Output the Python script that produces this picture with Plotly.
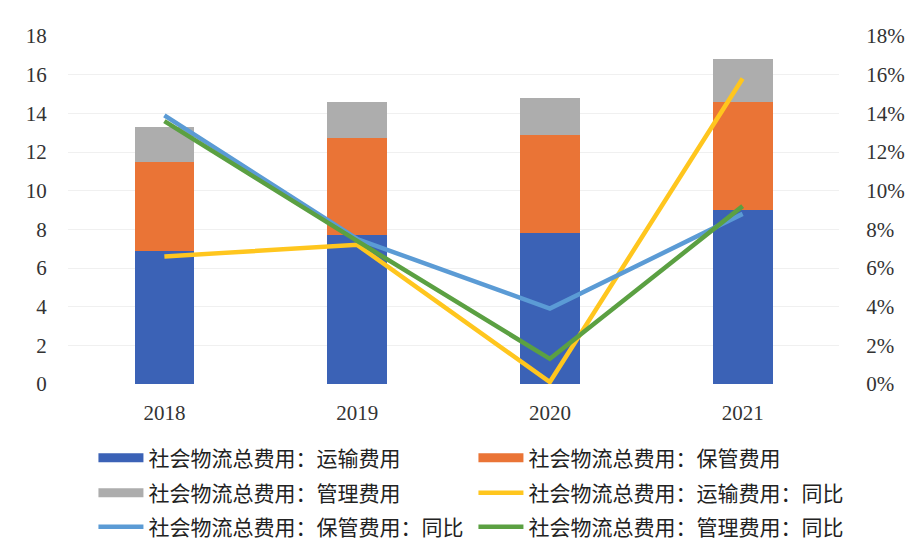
import plotly.graph_objects as go

years = ["2018", "2019", "2020", "2021"]
transport = [6.9, 7.7, 7.8, 9.0]
storage = [4.6, 5.0, 5.1, 5.6]
management = [1.8, 1.9, 1.9, 2.2]
transport_yoy = [0.066, 0.072, 0.001, 0.158]
storage_yoy = [0.139, 0.075, 0.039, 0.088]
management_yoy = [0.136, 0.074, 0.013, 0.092]

names_bar = ["社会物流总费用：运输费用", "社会物流总费用：保管费用", "社会物流总费用：管理费用"]
names_line = ["社会物流总费用：运输费用：同比", "社会物流总费用：保管费用：同比", "社会物流总费用：管理费用：同比"]
bar_colors = ["#3B62B6", "#EA7436", "#ADADAD"]
line_colors = ["#FFC61E", "#5B9BD5", "#5BA042"]

# legend placement: row 1, 2, 3 (two entries each)
legend_of_bar = ["legend", "legend", "legend2"]
legend_of_line = ["legend2", "legend3", "legend3"]

fig = go.Figure()
for vals, nm, c in zip([transport, storage, management], names_bar, bar_colors):
    fig.add_trace(go.Bar(x=years, y=vals, name=nm, marker=dict(color=c, line=dict(width=0)),
                         width=0.31, showlegend=False))
# legend entries for bars (wide rectangles)
for nm, c, lg in zip(names_bar, bar_colors, legend_of_bar):
    fig.add_trace(go.Scatter(x=[None], y=[None], mode="lines", name=nm, legend=lg,
                             line=dict(color=c, width=9), showlegend=True))
for vals, nm, c, lg in zip([transport_yoy, storage_yoy, management_yoy], names_line, line_colors, legend_of_line):
    fig.add_trace(go.Scatter(x=years, y=vals, name=nm, mode="lines", yaxis="y2", legend=lg,
                             line=dict(color=c, width=4.5)))

tick_font = dict(family="Liberation Serif", size=21, color="#333333")
leg_common = dict(orientation="h", x=0.033, xanchor="left", yanchor="middle",
                  entrywidth=320, entrywidthmode="pixels", traceorder="normal",
                  font=dict(family="Noto Sans CJK SC", size=21, color="#222222"),
                  itemwidth=45, bgcolor="rgba(0,0,0,0)")
fig.update_layout(
    width=917, height=559,
    margin=dict(l=68, r=68, t=36, b=175),
    paper_bgcolor="white", plot_bgcolor="white",
    barmode="stack",
    xaxis=dict(type="category", tickfont=tick_font, showgrid=False, zeroline=False,
               ticks="outside", ticklen=10, tickcolor="rgba(0,0,0,0)", showline=False),
    yaxis=dict(range=[0, 18], dtick=2, tickfont=tick_font, showgrid=True, gridcolor="#F0F0F0",
               zeroline=False, ticks="outside", ticklen=16, tickcolor="rgba(0,0,0,0)"),
    yaxis2=dict(range=[0, 0.18], dtick=0.02, tickformat=".0%", overlaying="y", side="right",
                tickfont=tick_font, showgrid=False, zeroline=False,
                ticks="outside", ticklen=22, tickcolor="rgba(0,0,0,0)"),
    legend=dict(leg_common, y=-0.2126),
    legend2=dict(leg_common, y=-0.3132),
    legend3=dict(leg_common, y=-0.411),
    showlegend=True,
)
fig.write_html("out.html")
